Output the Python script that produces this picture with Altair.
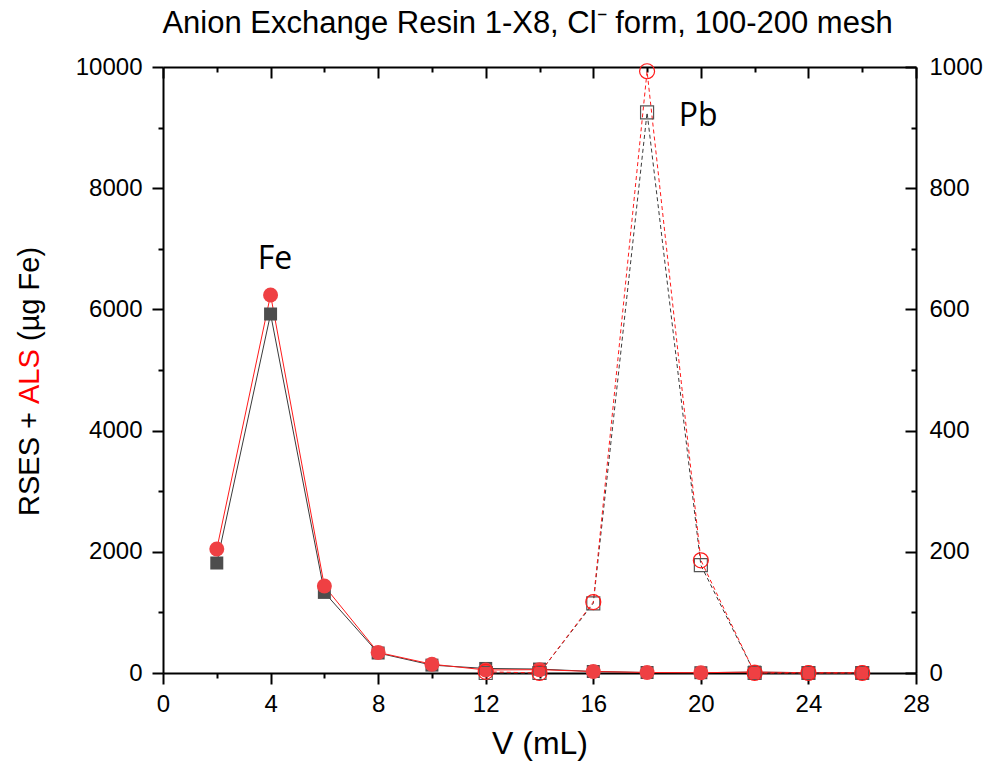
import altair as alt
import pandas as pd

# ---- data ----
v_fe = [2, 4, 6, 8, 10, 12, 14, 16, 18, 20, 22, 24, 26]
fe_rses = [1815, 5924, 1330, 330, 130, 75, 65, 25, 8, 5, 15, 5, 5]
fe_als = [2046, 6238, 1435, 340, 145, 50, 55, 25, 8, 5, 15, 5, 5]

v_pb = [12, 14, 16, 18, 20, 22, 24, 26]
pb_rses = [0, 0, 115, 925, 178, 0, 0, 0]
pb_als = [2, 0, 117, 993, 186, 0, 0, 0]

x_major = [0, 4, 8, 12, 16, 20, 24, 28]
x_minor = [2, 6, 10, 14, 18, 22, 26]
yl_major = [0, 2000, 4000, 6000, 8000, 10000]
yl_minor = [1000, 3000, 5000, 7000, 9000]
yr_major = [0, 200, 400, 600, 800, 1000]

title_text = "Anion Exchange Resin 1-X8, Cl\u207b form, 100-200 mesh"
x_title = "V (mL)"
y_title_parts = ["RSES + ", "ALS", "(\u00b5g Fe)"]

W, H = 753, 606
FONT = "Liberation Sans"
GRAY = "#4d4d4d"
RED_FILL = "#ef4043"
RED = "#ff1a1a"

fe = pd.DataFrame({"v": v_fe, "rses": fe_rses, "als": fe_als})
pb = pd.DataFrame({"v": v_pb, "rses": pb_rses, "als": pb_als})

xs = alt.Scale(domain=[0, 28], nice=False, zero=False)
yls = alt.Scale(domain=[0, 10000], nice=False, zero=False)
yrs = alt.Scale(domain=[0, 1000], nice=False, zero=False)

# axes
ax_bottom_major = alt.Axis(orient="bottom", values=x_major, tickSize=11, labelPadding=8,
                           format="d", title=x_title, titleFontSize=32, titlePadding=12)
ax_bottom_minor = alt.Axis(orient="bottom", values=x_minor, tickSize=5, labels=False,
                           domain=False, title=None)
ax_top_major = alt.Axis(orient="bottom", offset=-H, values=x_major, tickSize=11,
                        labels=False, title=None)
ax_top_minor = alt.Axis(orient="bottom", offset=-H, values=x_minor, tickSize=5,
                        labels=False, domain=False, title=None)
ax_left_major = alt.Axis(orient="left", values=yl_major, tickSize=11, labelPadding=10,
                         format="d", title=None)
ax_left_minor = alt.Axis(orient="left", values=yl_minor, tickSize=5, labels=False,
                         domain=False, title=None)
ax_rin_major = alt.Axis(orient="left", offset=-W, values=yl_major, tickSize=11,
                        labels=False, domain=False, title=None)
ax_rin_minor = alt.Axis(orient="left", offset=-W, values=yl_minor, tickSize=5,
                        labels=False, domain=False, title=None)
ax_right_labels = alt.Axis(orient="right", values=yr_major, ticks=False, tickSize=0,
                           labelPadding=13, format="d", title=None)

fe_base = alt.Chart(fe)
pb_base = alt.Chart(pb)

l_fe_rses = fe_base.mark_line(color="#3a3a3a", strokeWidth=1).encode(
    x=alt.X("v:Q", scale=xs, axis=ax_bottom_major),
    y=alt.Y("rses:Q", scale=yls, axis=ax_left_major))
l_fe_als = fe_base.mark_line(color=RED, strokeWidth=1).encode(
    x=alt.X("v:Q", scale=xs, axis=ax_bottom_minor),
    y=alt.Y("als:Q", scale=yls, axis=ax_left_minor))
l_pb_rses = pb_base.mark_line(color="#3a3a3a", strokeWidth=1, strokeDash=[4, 3]).encode(
    x=alt.X("v:Q", scale=xs, axis=None),
    y=alt.Y("rses:Q", scale=yrs, axis=ax_right_labels))
l_pb_als = pb_base.mark_line(color=RED, strokeWidth=1, strokeDash=[4, 3]).encode(
    x=alt.X("v:Q", scale=xs, axis=None),
    y=alt.Y("als:Q", scale=yrs, axis=None))

p_fe_rses = fe_base.mark_point(shape="square", filled=True, size=169, color=GRAY, opacity=1).encode(
    x=alt.X("v:Q", scale=xs, axis=ax_top_major),
    y=alt.Y("rses:Q", scale=yls, axis=ax_rin_major))
p_fe_als = fe_base.mark_point(shape="circle", filled=True, size=225, color=RED_FILL, opacity=1).encode(
    x=alt.X("v:Q", scale=xs, axis=ax_top_minor),
    y=alt.Y("als:Q", scale=yls, axis=ax_rin_minor))
p_pb_rses = pb_base.mark_point(shape="square", filled=False, size=169, color="#555555",
                               strokeWidth=1.2, opacity=1).encode(
    x=alt.X("v:Q", scale=xs, axis=None),
    y=alt.Y("rses:Q", scale=yrs, axis=None))
p_pb_als = pb_base.mark_point(shape="circle", filled=False, size=225, color=RED,
                              strokeWidth=1.2, opacity=1).encode(
    x=alt.X("v:Q", scale=xs, axis=None),
    y=alt.Y("als:Q", scale=yrs, axis=None))

ann_fe = alt.Chart(pd.DataFrame({"v": [4.16], "y": [6667], "t": ["Fe"]})).mark_text(
    font="Open Sans", fontSize=32, baseline="alphabetic", align="center", color="black").encode(
    x=alt.X("v:Q", scale=xs, axis=None), y=alt.Y("y:Q", scale=yls, axis=None), text="t:N")
ann_pb = alt.Chart(pd.DataFrame({"v": [19.9], "y": [903], "t": ["Pb"]})).mark_text(
    font="Open Sans", fontSize=32, baseline="alphabetic", align="center", color="black").encode(
    x=alt.X("v:Q", scale=xs, axis=None), y=alt.Y("y:Q", scale=yrs, axis=None), text="t:N")

# y axis title made of three coloured parts (rotated)
YT_SIZE = 29
yt_x = -133
yt = []
pos = [449, 337, 274]
cols = ["black", "#ff0000", "black"]
for part, p, c in zip(y_title_parts, pos, cols):
    yt.append(alt.Chart(pd.DataFrame({"t": [part]})).mark_text(
        font=FONT, fontSize=YT_SIZE, angle=270, align="left", baseline="middle", color=c).encode(
        text="t:N", x=alt.value(yt_x), y=alt.value(p)))

chart = alt.layer(
    l_fe_rses, l_fe_als, l_pb_rses, l_pb_als,
    p_fe_rses, p_fe_als, p_pb_rses, p_pb_als,
    ann_fe, ann_pb, *yt
).resolve_scale(y="independent").resolve_axis(x="independent", y="independent").properties(
    width=W, height=H,
    background="white",
    title=alt.TitleParams(text=title_text, font=FONT, fontSize=31, fontWeight="normal",
                          color="black", anchor="middle", dx=-12, offset=15),
    autosize=alt.AutoSizeParams(type="none"),
    padding={"left": 163, "top": 67, "right": 75, "bottom": 99},
).configure_view(stroke=None).configure_axis(
    labelFont=FONT, labelFontSize=24, labelColor="black", tickColor="black",
    domainColor="black", tickWidth=2, domainWidth=2, grid=False,
    titleFont=FONT, titleFontWeight="normal", titleColor="black", labelFlush=False,
    labelOverlap=False
)

chart.save("out.html", embed_options={"renderer": "svg", "actions": False})
